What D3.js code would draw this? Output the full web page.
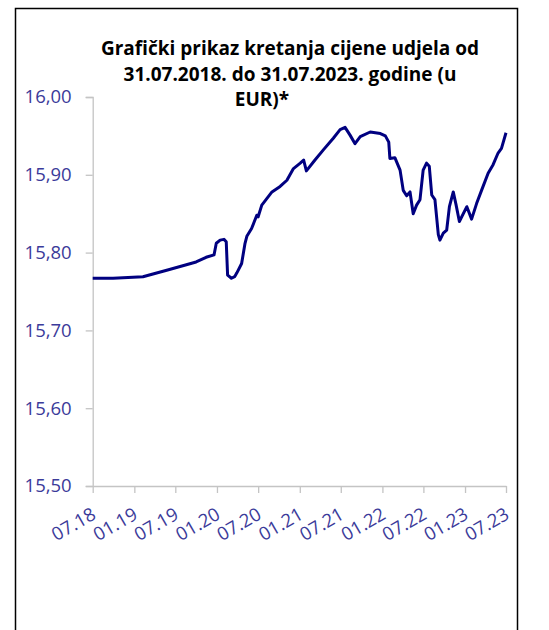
<!DOCTYPE html>
<html>
<head>
<meta charset="utf-8">
<script src="https://cdn.jsdelivr.net/npm/d3@7"></script>
<style>
  body { margin: 0; background: #fff; }
</style>
</head>
<body>
<div id="chart"></div>
<script>
// chart data
var dates = ["2018-07-31", "2018-10-29", "2019-03-10", "2019-07-01", "2019-10-31", "2019-12-14",
  "2020-01-18", "2020-01-28", "2020-02-14", "2020-03-02", "2020-03-12", "2020-03-18", "2020-04-04",
  "2020-04-18", "2020-04-28", "2020-05-19", "2020-06-03", "2020-06-11", "2020-07-02", "2020-07-25",
  "2020-07-31", "2020-08-16", "2020-09-30", "2020-11-05", "2020-12-05", "2021-01-03", "2021-02-02", "2021-02-17",
  "2021-03-01", "2021-04-08", "2021-05-15", "2021-06-28", "2021-07-28", "2021-08-19", "2021-09-10",
  "2021-10-02", "2021-10-25", "2021-12-08", "2022-01-22", "2022-02-13", "2022-02-28", "2022-03-05",
  "2022-03-27", "2022-04-19", "2022-05-03", "2022-05-18", "2022-06-02", "2022-06-16", "2022-07-01",
  "2022-07-16", "2022-07-30", "2022-08-14", "2022-08-26", "2022-09-06", "2022-09-20", "2022-10-05",
  "2022-10-12", "2022-10-27", "2022-11-11", "2022-11-23", "2022-12-10", "2022-12-22", "2023-01-06",
  "2023-02-08", "2023-03-01", "2023-03-23", "2023-04-14", "2023-05-13", "2023-06-04", "2023-06-26",
  "2023-07-11", "2023-07-31"];
var prices = [15.767, 15.767, 15.769, 15.778, 15.788, 15.794,
  15.797, 15.812, 15.816, 15.817, 15.814, 15.771, 15.767,
  15.769, 15.774, 15.786, 15.812, 15.821, 15.831, 15.848,
  15.846, 15.861, 15.878, 15.885, 15.893, 15.908, 15.915, 15.919,
  15.905, 15.919, 15.932, 15.947, 15.958, 15.961, 15.951,
  15.940, 15.949, 15.955, 15.953, 15.950, 15.942, 15.921,
  15.922, 15.906, 15.880, 15.873, 15.878, 15.850, 15.861,
  15.868, 15.906, 15.915, 15.911, 15.874, 15.868, 15.823,
  15.816, 15.825, 15.829, 15.859, 15.878, 15.862, 15.840,
  15.859, 15.843, 15.863, 15.880, 15.902, 15.913, 15.928,
  15.934, 15.954];
var xTickDates = ["2018-07-31", "2019-01-31", "2019-07-31", "2020-01-31", "2020-07-31", "2021-01-31",
  "2021-07-31", "2022-01-31", "2022-07-31", "2023-01-31", "2023-07-31"];
var yTicks = [15.5, 15.6, 15.7, 15.8, 15.9, 16.0];
var titleLines = ["Grafički prikaz kretanja cijene udjela od", "31.07.2018. do 31.07.2023. godine (u", "EUR)*"];

function drawChart() {
    var w = 549;
    var h = 630;
    var parseDate = d3.timeParse("%Y-%m-%d");
    var data = dates.map(function (d, i) { return { date: parseDate(d), value: prices[i] }; });
    var labelColor = "#3b3b9a";
    var fontFam = "'Open Sans', 'Noto Sans', sans-serif";

    var svg = d3.select("#chart")
        .append("svg")
        .attr("width", w)
        .attr("height", h);

    // outer frame
    svg.append("rect")
        .attr("x", 15.5)
        .attr("y", 8.5)
        .attr("width", 502)
        .attr("height", 640)
        .attr("fill", "none")
        .attr("stroke", "#000")
        .attr("stroke-width", 1.5);

    var xScale = d3.scaleTime()
        .domain([parseDate(dates[0]), parseDate(dates[dates.length - 1])])
        .range([92.7, 506]);

    var yScale = d3.scaleLinear()
        .domain([15.5, 16.0])
        .range([486, 97]);

    var comma = d3.formatLocale({ decimal: ",", thousands: ".", grouping: [3], currency: ["", " EUR"] });

    // y axis
    var yAxis = d3.axisLeft(yScale)
        .tickValues(yTicks)
        .tickSize(7)
        .tickPadding(14)
        .tickFormat(comma.format(".2f"));
    var gy = svg.append("g")
        .attr("transform", "translate(92.7,0)")
        .call(yAxis);
    gy.select(".domain").attr("stroke", "#c4c4c4").attr("stroke-width", 1.3);
    gy.selectAll(".tick line").attr("stroke", "#c4c4c4").attr("stroke-width", 1.3);
    gy.selectAll(".tick text")
        .attr("fill", labelColor)
        .attr("font-family", fontFam)
        .attr("font-size", "18.5px");

    // x axis
    var xAxis = d3.axisBottom(xScale)
        .tickValues(xTickDates.map(parseDate))
        .tickSize(7)
        .tickSizeOuter(0)
        .tickFormat(d3.timeFormat("%m.%y"));
    var gx = svg.append("g")
        .attr("transform", "translate(0,486)")
        .call(xAxis);
    gx.select(".domain").attr("stroke", "#c4c4c4").attr("stroke-width", 1.3);
    gx.selectAll(".tick line").attr("stroke", "#c4c4c4").attr("stroke-width", 1.3);
    gx.selectAll(".tick text")
        .attr("fill", labelColor)
        .attr("font-family", fontFam)
        .attr("font-size", "18.5px")
        .attr("text-anchor", "end")
        .attr("dy", 0)
        .attr("y", 0)
        .attr("transform", "translate(4,32) rotate(-30)");

    // price line
    var line = d3.line()
        .x(function (d) { return xScale(d.date); })
        .y(function (d) { return yScale(d.value); });
    svg.append("path")
        .datum(data)
        .attr("d", line)
        .attr("fill", "none")
        .attr("stroke", "#000080")
        .attr("stroke-width", 3)
        .attr("stroke-linejoin", "round");

    // title (last line sits a little left of centre in the original)
    svg.append("g")
        .selectAll("text")
        .data(titleLines)
        .enter()
        .append("text")
        .attr("x", function (d, i) { return i === 2 ? 262 : 290; })
        .attr("y", function (d, i) { return 55 + i * 25.5; })
        .attr("text-anchor", "middle")
        .attr("font-family", fontFam)
        .attr("font-weight", "bold")
        .attr("font-size", "19px")
        .attr("fill", "#000")
        .text(function (d) { return d; });
}

drawChart();
</script>
</body>
</html>
